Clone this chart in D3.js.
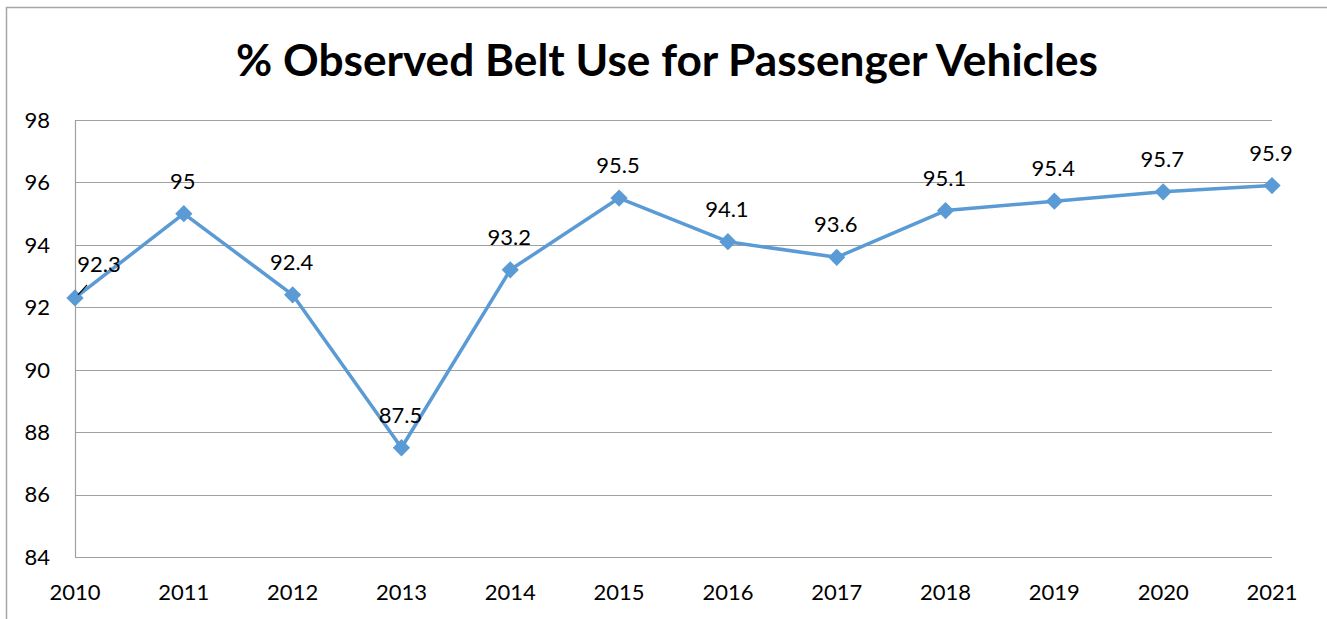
<!DOCTYPE html>
<html>
<head>
<meta charset="utf-8">
<script src="https://cdn.jsdelivr.net/npm/d3@7"></script>
<style>
  body { margin: 0; background: #fff; }
  svg { display: block; font-family: Lato, "Open Sans", sans-serif; }
</style>
</head>
<body>
<svg id="chart" width="1327" height="619"></svg>
<script>
// data
const years = ['2010', '2011', '2012', '2013', '2014', '2015', '2016', '2017', '2018', '2019', '2020', '2021'];
const beltUse = [92.3, 95, 92.4, 87.5, 93.2, 95.5, 94.1, 93.6, 95.1, 95.4, 95.7, 95.9];
const yTicks = [84, 86, 88, 90, 92, 94, 96, 98];
const title = '% Observed Belt Use for Passenger Vehicles';

const svg = d3.select('#chart');
const plot = { left: 75, right: 1272, top: 120, bottom: 557 };

const x = d3.scalePoint().domain(years).range([plot.left, plot.right]);
const y = d3.scaleLinear().domain([84, 98]).range([plot.bottom, plot.top]);

// outer chart frame (only left & top edges visible)
svg.append('path')
  .attr('d', 'M6.5,619 V7.5 H1327')
  .attr('fill', 'none')
  .attr('stroke', '#a6a6a6')
  .attr('stroke-width', 1.5);

// title, sized to match the reference width
const t = svg.append('text')
  .attr('x', (236 + 1098) / 2)
  .attr('y', 76)
  .attr('text-anchor', 'middle')
  .style('font-weight', 700)
  .style('font-size', '40px')
  .text(title);
const tw = t.node().getComputedTextLength();
t.style('font-size', (40 * 862 / tw).toFixed(1) + 'px');

// horizontal gridlines
svg.append('g')
  .selectAll('line')
  .data(yTicks)
  .enter().append('line')
  .attr('x1', plot.left)
  .attr('x2', plot.right)
  .attr('y1', function (d) { return Math.round(y(d)) + 0.5; })
  .attr('y2', function (d) { return Math.round(y(d)) + 0.5; })
  .attr('stroke', '#a0a0a0')
  .attr('stroke-width', 1.2);

// y axis line
svg.append('line')
  .attr('x1', plot.left + 0.5).attr('x2', plot.left + 0.5)
  .attr('y1', plot.top).attr('y2', plot.bottom)
  .attr('stroke', '#a0a0a0')
  .attr('stroke-width', 1.2);

// y tick labels
svg.append('g')
  .selectAll('text')
  .data(yTicks)
  .enter().append('text')
  .attr('x', 50)
  .attr('y', function (d) { return y(d); })
  .attr('dy', '0.36em')
  .attr('text-anchor', 'end')
  .style('font-size', '22px')
  .text(function (d) { return d; });

// x labels
svg.append('g')
  .selectAll('text')
  .data(years)
  .enter().append('text')
  .attr('x', function (d) { return x(d); })
  .attr('y', 600)
  .attr('text-anchor', 'middle')
  .style('font-size', '22px')
  .text(function (d) { return d; });

const points = years.map(function (yr, i) { return { year: yr, value: beltUse[i] }; });

// series line
const line = d3.line()
  .x(function (d) { return x(d.year); })
  .y(function (d) { return y(d.value); });

svg.append('path')
  .datum(points)
  .attr('d', line)
  .attr('fill', 'none')
  .attr('stroke', '#5b9bd5')
  .attr('stroke-width', 3.5)
  .attr('stroke-linejoin', 'round');

// diamond markers
svg.append('g')
  .selectAll('path')
  .data(points)
  .enter().append('path')
  .attr('d', d3.symbol().type(d3.symbolDiamond2).size(190))
  .attr('transform', function (d) { return 'translate(' + x(d.year) + ',' + y(d.value) + ')'; })
  .attr('fill', '#5b9bd5');

// leader line for the first label
const first = points[0];
svg.append('line')
  .attr('x1', x(first.year) + 3).attr('y1', y(first.value) - 3)
  .attr('x2', x(first.year) + 12).attr('y2', y(first.value) - 13)
  .attr('stroke', '#000')
  .attr('stroke-width', 1.2);

// data labels
svg.append('g')
  .selectAll('text')
  .data(points)
  .enter().append('text')
  .attr('x', function (d, i) { return x(d.year) + (i === 0 ? 24 : -1); })
  .attr('y', function (d, i) { return y(d.value) - (i === 0 ? 26 : 25); })
  .attr('text-anchor', 'middle')
  .style('font-size', '22px')
  .text(function (d) { return d.value; });
</script>
</body>
</html>
